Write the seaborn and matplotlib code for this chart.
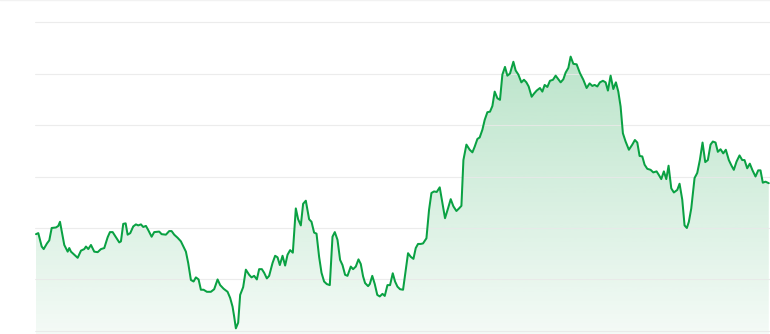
import numpy as np
import pandas as pd
import matplotlib
matplotlib.use("Agg")
import matplotlib.pyplot as plt
import seaborn as sns

# time position (days from start)
t = [0.0, 2.3, 5.7, 7.7, 11.0, 13.3, 15.7, 20.0, 22.3, 24.0, 28.3, 31.7, 33.3, 35.0, 38.3, 41.7,
     45.0, 48.3, 50.0, 52.3, 55.0, 58.3, 61.7, 65.0, 68.3, 71.7, 74.0, 76.7, 80.0, 83.3, 85.0,
     87.3, 89.7, 91.7, 94.3, 97.3, 100.0, 102.3, 105.0, 107.3, 110.0, 112.3, 115.7, 118.3,
     123.3, 125.7, 130.0, 133.3, 135.7, 138.3, 141.7, 145.0, 150.0, 152.3, 155.0, 157.7,
     160.0, 162.7, 165.0, 167.7, 171.0, 175.0, 178.3, 181.7, 184.3, 187.7, 191.7, 194.3,
     196.7, 198.3, 200.0, 202.3, 204.3, 207.3, 210.0, 213.3, 215.7, 218.3, 221.0, 223.3,
     226.0, 228.3, 231.0, 233.3, 236.7, 239.3, 241.7, 244.0, 246.7, 249.3, 251.7, 254.3,
     257.0, 260.0, 262.3, 265.0, 267.3, 270.0, 273.3, 275.7, 278.3, 280.7, 283.3, 285.7,
     288.3, 291.0, 294.0, 296.7, 299.0, 301.7, 304.3, 306.7, 309.3, 311.7, 315.0, 317.3,
     320.0, 322.7, 325.0, 327.3, 329.3, 332.3, 334.0, 336.5, 339.0, 341.5, 344.0, 346.7,
     349.0, 351.7, 354.3, 357.0, 359.3, 361.7, 364.3, 367.3, 370.0, 372.3, 375.0, 377.7,
     380.0, 382.3, 385.0, 387.3, 390.7, 393.3, 395.7, 398.3, 401.0, 404.0, 406.7, 409.3,
     412.3, 415.0, 417.7, 420.7, 423.3, 425.7, 427.7, 430.7, 434.0, 436.7, 439.0, 441.7,
     444.0, 446.7, 449.0, 451.7, 454.3, 456.7, 459.0, 461.7, 464.3, 466.7, 469.3, 471.7,
     474.3, 477.7, 480.0, 482.7, 485.7, 488.3, 490.7, 493.0, 496.0, 498.3, 501.0, 504.3,
     506.7, 509.0, 511.7, 514.3, 517.3, 520.0, 522.7, 525.0, 527.7, 530.0, 532.7, 535.0,
     537.7, 541.0, 544.3, 547.7, 551.0, 554.0, 556.7, 559.0, 561.7, 564.3, 567.3, 570.0,
     572.3, 575.0, 577.7, 580.3, 582.7, 585.0, 587.3, 590.0, 593.3, 596.7, 599.3, 601.7,
     604.0, 606.7, 609.0, 611.7, 615.0, 617.7, 621.0, 623.3, 625.7, 628.3, 630.7, 633.0,
     635.7, 638.3, 641.7, 644.0, 646.7, 649.0, 651.3, 653.3, 655.7, 659.0, 661.7, 664.3,
     667.0, 669.7, 672.3, 675.0, 677.3, 680.0, 682.3, 685.0, 687.7, 690.3, 693.3, 696.0,
     698.3, 701.0, 704.0, 706.7, 709.0, 711.7, 714.3, 717.0, 720.0, 722.7, 725.0, 727.3,
     730.0, 733.3]

price = [18.8, 19.0, 16.4, 15.9, 17.0, 17.6, 20.0, 20.1, 20.4, 21.2, 16.7, 15.4, 16.1, 15.4,
         14.8, 14.2, 15.6, 15.9, 16.4, 15.9, 16.7, 15.4, 15.3, 15.9, 16.1, 18.2, 19.2, 19.2,
         18.2, 17.2, 17.4, 20.8, 20.9, 18.7, 19.0, 20.3, 20.7, 20.5, 20.7, 20.2, 20.4, 19.6,
         18.3, 19.2, 19.3, 18.8, 18.7, 19.4, 19.4, 18.7, 18.1, 17.4, 15.4, 13.2, 9.9, 9.6,
         10.4, 10.0, 8.0, 8.0, 7.6, 7.6, 8.1, 10.0, 8.9, 8.2, 7.6, 6.4, 4.7, 2.8, 0.5, 1.6,
         7.0, 8.5, 11.9, 10.9, 10.4, 10.7, 10.0, 12.0, 12.0, 11.3, 10.2, 10.7, 13.2, 14.6,
         14.3, 12.8, 14.6, 12.7, 14.8, 15.7, 15.2, 23.8, 21.7, 20.5, 24.7, 25.3, 21.7, 21.2,
         19.1, 18.9, 14.4, 11.3, 9.6, 9.1, 8.9, 18.3, 19.2, 17.7, 13.8, 12.8, 10.9, 10.7,
         12.5, 12.0, 12.5, 13.9, 13.0, 10.6, 9.3, 8.7, 9.1, 10.7, 9.1, 7.0, 6.7, 7.2, 6.8,
         8.9, 8.9, 11.2, 9.6, 8.6, 8.1, 8.0, 11.9, 15.1, 14.4, 14.0, 16.1, 16.9, 16.9, 17.0,
         18.0, 23.5, 26.8, 27.1, 27.0, 27.9, 24.8, 21.9, 23.8, 25.6, 24.2, 23.3, 23.8, 24.3,
         33.2, 36.2, 35.2, 34.7, 35.8, 37.3, 37.6, 39.1, 41.0, 42.5, 42.6, 43.7, 46.5, 45.2,
         44.9, 49.8, 51.3, 49.6, 50.0, 52.3, 50.6, 49.8, 48.3, 48.8, 48.3, 47.5, 45.5, 46.1,
         46.7, 47.2, 46.5, 47.8, 47.4, 48.6, 48.8, 49.6, 48.9, 48.3, 48.9, 50.2, 51.1, 53.3,
         51.9, 51.8, 50.1, 48.8, 47.2, 48.1, 47.6, 47.8, 47.5, 48.3, 48.6, 48.3, 46.7, 49.6,
         47.0, 48.3, 46.5, 43.6, 38.4, 36.8, 35.2, 36.2, 37.1, 36.6, 34.0, 33.9, 32.3, 31.5,
         31.3, 30.8, 31.0, 30.3, 29.5, 31.0, 29.5, 32.1, 27.7, 26.9, 27.4, 28.6, 25.5, 20.5,
         20.0, 21.2, 23.8, 29.7, 30.7, 33.2, 36.6, 32.8, 33.2, 36.2, 36.8, 36.6, 34.8, 35.3,
         34.5, 35.2, 33.2, 32.1, 31.3, 32.9, 34.1, 33.2, 33.2, 31.6, 32.5, 31.2, 30.0, 31.2,
         31.2, 28.8, 29.0, 28.7]

grid_values = [0, 10, 20, 30, 40, 50, 60]

n = min(len(t), len(price))
df = pd.DataFrame({"t": t[:n], "price": price[:n]})

LINE = "#0aa143"

sns.set_theme(style="white")
fig = plt.figure(figsize=(7.7, 3.34), dpi=100)
ax = fig.add_axes([35 / 770, 0, 1 - 35 / 770, 1])

YMIN, YMAX = -0.6, 64.3
XMIN, XMAX = -1.0, 734.5

# gradient fill under the curve
fill = ax.fill_between(df["t"], df["price"], YMIN, color="none", lw=0)
grad = np.linspace(0.05, 0.34, 256).reshape(-1, 1)
rgba = np.zeros((256, 1, 4))
rgba[..., 0] = 22 / 255
rgba[..., 1] = 163 / 255
rgba[..., 2] = 74 / 255
rgba[..., 3] = grad
img = ax.imshow(rgba, extent=[XMIN, XMAX, YMIN, YMAX], origin="lower",
                aspect="auto", zorder=1, interpolation="bicubic")
path = fill.get_paths()[0]
img.set_clip_path(path, transform=ax.transData)

sns.lineplot(data=df, x="t", y="price", ax=ax, color=LINE, linewidth=1.45,
             zorder=3, sort=False)

ax.set_xlim(XMIN, XMAX)
ax.set_ylim(YMIN, YMAX)
ax.set_yticks(grid_values)
ax.set_xticks([])
ax.set_axisbelow("line")
ax.yaxis.grid(True, color="#e9e9e9", linewidth=0.8, alpha=0.85)
ax.tick_params(left=False, bottom=False, labelleft=False, labelbottom=False)
ax.set_xlabel("")
ax.set_ylabel("")
for s in ax.spines.values():
    s.set_visible(False)

# faint top border
fig.add_artist(plt.Line2D([0, 1], [0.999, 0.999], color="#f2f2f2", linewidth=1.0))

fig.savefig("out.png", dpi=100)
